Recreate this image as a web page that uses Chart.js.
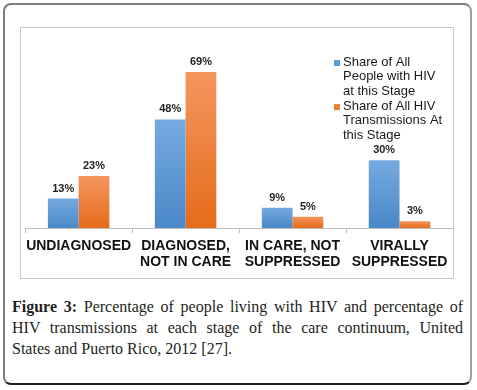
<!DOCTYPE html>
<html>
<head>
<meta charset="utf-8">
<script src="https://cdn.jsdelivr.net/npm/chart.js@4/dist/chart.umd.min.js"></script>
<style>
  html, body { margin: 0; padding: 0; background: #fff; }
  body { width: 477px; height: 390px; position: relative; overflow: hidden; }
  #outer {
    position: absolute; left: 3px; top: 3px; width: 465px; height: 378px;
    border-top: 2px solid #7d7d7d; border-left: 2px solid #7d7d7d;
    border-right: 2px solid #a0a0a0; border-bottom: 2px solid #1e1e1e;
    border-radius: 8px; box-sizing: content-box;
  }
  #inner {
    position: absolute; left: 20px; top: 27px; width: 432px; height: 250px;
    border: 1px solid #c6c6c6;
  }
  #inner canvas { display: block; }
  #caption {
    position: absolute; left: 12px; top: 296px; width: 451px;
    font-family: "Liberation Serif", "Times New Roman", serif; font-size: 16px;
    line-height: 21px; color: #231f20;
  }
  #caption .j { text-align: justify; text-align-last: justify; white-space: nowrap; }
  #caption .l { text-align: left; white-space: nowrap; }
</style>
</head>
<body>
<div id="outer"></div>
<div id="inner"><canvas id="c" width="432" height="250" style="width:432px;height:250px"></canvas></div>
<div id="caption">
  <div class="j"><b>Figure 3:</b> Percentage of people living with HIV and percentage of</div>
  <div class="j">HIV transmissions at each stage of the care continuum, United</div>
  <div class="l">States and Puerto Rico, 2012 [27].</div>
</div>
<script>
const categories = [["UNDIAGNOSED"], ["DIAGNOSED,", "NOT IN CARE"], ["IN CARE, NOT", "SUPPRESSED"], ["VIRALLY", "SUPPRESSED"]];
const seriesNames = [["Share of All", "People with HIV", "at this Stage"], ["Share of All HIV", "Transmissions At", "this Stage"]];
const peopleShare = [13, 48, 9, 30];
const transmissionShare = [23, 69, 5, 3];

const FONT = '"Liberation Sans", Arial, sans-serif';

function gradFill(top, bottom) {
  return function (ctx) {
    const chart = ctx.chart;
    if (!chart.chartArea || ctx.raw == null) return bottom;
    const y = chart.scales.y;
    const y1 = y.getPixelForValue(ctx.raw);
    const y0 = y.getPixelForValue(0);
    if (!isFinite(y1) || !isFinite(y0) || y1 === y0) return bottom;
    const g = chart.ctx.createLinearGradient(0, y1, 0, y0);
    g.addColorStop(0, top);
    g.addColorStop(1, bottom);
    return g;
  };
}

const blueTop = '#76aadf', blueBot = '#4a88c7';
const orangeTop = '#f4965f', orangeBot = '#e56c1a';

const valueLabels = {
  id: 'valueLabels',
  afterDatasetsDraw(chart) {
    const ctx = chart.ctx;
    ctx.save();
    ctx.font = 'bold 11px ' + FONT;
    ctx.fillStyle = '#1f1f1f';
    ctx.textAlign = 'center';
    ctx.textBaseline = 'middle';
    chart.data.datasets.forEach((ds, di) => {
      const meta = chart.getDatasetMeta(di);
      meta.data.forEach((bar, i) => {
        ctx.fillText(ds.data[i] + '%', bar.x, bar.y - 10);
      });
    });
    ctx.restore();
  }
};

const sideLegend = {
  id: 'sideLegend',
  afterDraw(chart) {
    const ctx = chart.ctx;
    ctx.save();
    ctx.font = '13px ' + FONT;
    ctx.fillStyle = '#1a1a1a';
    ctx.textAlign = 'left';
    ctx.textBaseline = 'middle';
    const x0 = 313, tx = 322, lh = 14.7;
    let y = 34;
    chart.data.datasets.forEach((ds) => {
      ctx.fillStyle = ds.legendColor;
      ctx.fillRect(x0, y - 2, 6, 6);
      ctx.fillStyle = '#1a1a1a';
      ds.legendLines.forEach((line) => {
        ctx.fillText(line, tx, y);
        y += lh;
      });
    });
    ctx.restore();
  }
};

new Chart(document.getElementById('c'), {
  type: 'bar',
  data: {
    labels: categories,
    datasets: [
      { label: seriesNames[0].join(' '), legendLines: seriesNames[0], legendColor: '#5b9bd5',
        data: peopleShare, backgroundColor: gradFill(blueTop, blueBot), borderWidth: 0,
        categoryPercentage: 0.575, barPercentage: 1.0 },
      { label: seriesNames[1].join(' '), legendLines: seriesNames[1], legendColor: '#ed7d31',
        data: transmissionShare, backgroundColor: gradFill(orangeTop, orangeBot), borderWidth: 0,
        categoryPercentage: 0.575, barPercentage: 1.0 }
    ]
  },
  options: {
    responsive: false,
    animation: false,
    devicePixelRatio: 1,
    layout: { padding: { top: 19, left: 1, right: 0, bottom: 0 } },
    plugins: { legend: { display: false }, tooltip: { enabled: false }, title: { display: false } },
    scales: {
      x: {
        afterFit(scale) { scale.height = 50; },
        grid: { display: true, drawOnChartArea: false, drawTicks: true, tickLength: 5, color: '#bfbfbf', offset: true },
        border: { display: true, color: '#bfbfbf', width: 1 },
        ticks: { color: '#111', padding: 5, maxRotation: 0, autoSkip: false,
          font: { family: FONT, size: 14, weight: 'bold', lineHeight: 1.15 } }
      },
      y: { display: false, min: 0, max: 80 }
    }
  },
  plugins: [valueLabels, sideLegend]
});
</script>
</body>
</html>
